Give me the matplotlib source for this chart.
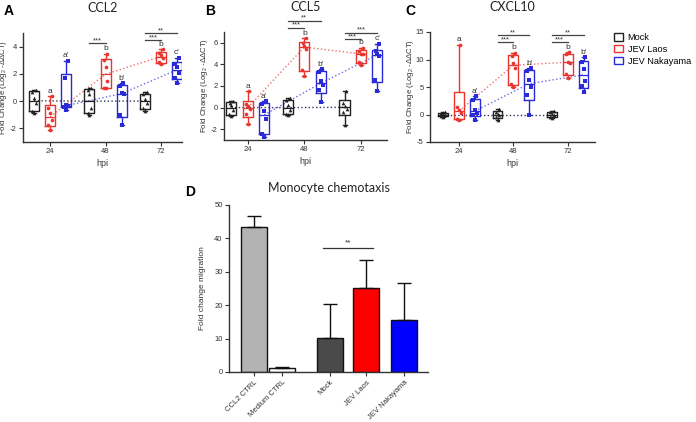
import matplotlib
matplotlib.use("Agg")
import matplotlib.pyplot as plt
import numpy as np
from matplotlib.patches import Patch

plt.rcParams['font.family'] = ['Liberation Sans', 'DejaVu Sans']
plt.rcParams['mathtext.fontset'] = 'custom'
plt.rcParams['mathtext.rm'] = 'Liberation Sans'
plt.rcParams['mathtext.it'] = 'Liberation Sans:italic'
plt.rcParams['axes.unicode_minus'] = False

# ---- data ----
hpi = ["24", "48", "72"]
groups = ["Mock", "JEV Laos", "JEV Nakayama"]

# CCL2 (Log2 -ddCT), 6 replicates per group per time point
ccl2_mock = [[0.81, 0.69, 0.2, -0.15, -0.69, -0.86],
             [0.95, 0.85, 0.5, -0.5, -0.85, -1.0],
             [0.65, 0.5, 0.15, -0.15, -0.5, -0.75]]
ccl2_laos = [[0.35, -0.5, -0.9, -1.4, -1.75, -2.15],
             [3.45, 3.0, 2.5, 1.45, 1.0, 1.0],
             [3.8, 3.55, 3.35, 3.2, 2.85, 2.75]]
ccl2_naka = [[2.95, 1.7, -0.3, -0.35, -0.4, -0.65],
             [1.3, 1.1, 0.6, 0.5, -1.0, -1.75],
             [3.2, 2.75, 2.5, 2.1, 1.7, 1.3]]

# CCL5
ccl5_mock = [[0.6, 0.45, 0.2, -0.2, -0.6, -0.8],
             [0.85, 0.7, 0.2, -0.2, -0.6, -0.7],
             [1.55, 0.45, 0.15, -0.1, -0.4, -1.65]]
ccl5_laos = [[1.5, 0.3, 0.15, -0.15, -0.6, -1.55],
             [6.4, 6.0, 5.75, 5.45, 3.5, 2.95],
             [5.55, 5.2, 5.0, 4.95, 4.2, 3.95]]
ccl5_naka = [[0.6, 0.35, -0.3, -1.05, -2.4, -2.75],
             [3.55, 3.3, 2.45, 2.05, 1.65, 0.5],
             [5.9, 5.2, 5.0, 4.8, 2.6, 1.5]]

# CXCL10
cxcl10_mock = [[0.4, 0.2, 0.1, -0.1, -0.2, -0.4],
               [1.0, 0.4, 0.1, -0.1, -0.45, -1.0],
               [0.7, 0.4, 0.1, -0.1, -0.4, -0.6]]
cxcl10_laos = [[12.7, 1.3, 0.9, 0.3, -0.8, -1.05],
               [11.2, 10.7, 9.4, 8.5, 5.5, 5.0],
               [11.3, 11.0, 9.6, 9.4, 7.3, 6.7]]
cxcl10_naka = [[3.3, 2.55, 0.9, 0.3, 0.0, -0.99],
               [8.4, 7.9, 6.2, 5.0, 3.6, 0.0],
               [10.4, 9.6, 8.3, 6.1, 5.1, 4.05]]

# significance brackets: (time index, group a, group b, y, label)
ccl2_sig = [(1, 0, 1, 4.25, '***'), (2, 0, 1, 4.45, '***'), (2, 0, 2, 4.97, '**')]
ccl5_sig = [(1, 0, 1, 7.4, '***'), (1, 0, 2, 8.05, '**'),
            (2, 0, 1, 6.35, '***'), (2, 0, 2, 6.95, '***')]
cxcl10_sig = [(1, 0, 1, 13.15, '***'), (1, 0, 2, 14.4, '**'),
              (2, 0, 1, 13.15, '***'), (2, 0, 2, 14.4, '**')]

laos_letters = ['a', 'b', 'b']
ccl_naka_letters = ["a'", "b'", "c'"]
cxcl10_naka_letters = ["a'", "b'", "b'"]

# panel D
d_labels = ["CCL2 CTRL", "Medium CTRL", "Mock", "JEV Laos", "JEV Nakayama"]
d_values = [43.3, 1.1, 10.1, 25.2, 15.7]
d_err = [3.3, 0.4, 10.3, 8.2, 10.9]

# ---- style ----
box_col = ['#222222', '#e8352e', '#2a2ad6']
line_col = ['#333355', '#f07070', '#6a6ae8']
markers = ['^', 'o', 's']
d_colors = ['#b3b3b3', '#ffffff', '#4a4a4a', '#ff0000', '#0000ff']
d_pos = [0, 1, 2.7, 4.0, 5.35]
offs = [-0.29, 0, 0.29]
jit = [0.03, -0.03, 0.0, 0.035, -0.035, 0.0]

W, H = 696, 422
fig = plt.figure(figsize=(W / 100, H / 100), dpi=100)


def px_axes(l, t, r, b):
    return fig.add_axes([l / W, 1 - b / H, (r - l) / W, (b - t) / H])


def stats(p):
    p = np.asarray(p)
    return dict(med=np.median(p),
                q1=np.percentile(p, 25, method='weibull'),
                q3=np.percentile(p, 75, method='weibull'),
                whislo=p.min(), whishi=p.max(), fliers=[])


def style_axes(ax):
    ax.tick_params(labelsize=5.5, length=3, width=0.8, color='#333333',
                   labelcolor='#333333', pad=1.5)
    for s in ['top', 'right']:
        ax.spines[s].set_visible(False)
    for s in ['left', 'bottom']:
        ax.spines[s].set_color('#333333')
        ax.spines[s].set_linewidth(1)


def panel(ax, data, sig, letters, ylim, yticks, xlim, title, width_px):
    rng = ylim[1] - ylim[0]
    for g in range(3):
        meds = []
        for t in range(3):
            x = t + offs[g]
            st = stats(data[g][t])
            meds.append(st['med'])
            ax.bxp([st], positions=[x], widths=0.18, showfliers=False,
                   boxprops=dict(color=box_col[g], lw=1),
                   medianprops=dict(color=box_col[g], lw=0.9),
                   whiskerprops=dict(color=box_col[g], lw=1),
                   capprops=dict(color=box_col[g], lw=1), capwidths=0.07)
            ax.scatter(x + np.array(jit), data[g][t], marker=markers[g],
                       s=7, color=box_col[g], zorder=3, linewidths=0)
            if g > 0:
                ax.text(x, max(data[g][t]) + 0.015 * rng, letters[g - 1][t],
                        ha='center', va='bottom', fontsize=6, color='#333333')
        ax.plot([t + offs[g] for t in range(3)], meds, ls=':', lw=1,
                color=line_col[g], zorder=1)
    for t, a, b, y, lab in sig:
        ax.plot([t + offs[a], t + offs[b]], [y, y], color='#444444', lw=0.9,
                clip_on=False)
        ax.text((t + offs[a] + t + offs[b]) / 2, y - 0.01 * rng, lab,
                ha='center', va='bottom', fontsize=5.5, color='#333333')
    ax.set_xlim(*xlim)
    ax.set_ylim(*ylim)
    ax.set_yticks(yticks)
    ax.set_xticks(range(3))
    ax.set_xticklabels(hpi)
    style_axes(ax)
    ax.set_xlabel('hpi', fontsize=6.5, color='#333333', labelpad=3)
    ax.set_ylabel('Fold Change (Log$_2$ -ΔΔCT)', fontsize=5.6, color='#333333')
    ax.yaxis.set_label_coords(-13.5 / width_px, 0.5)
    ax.set_title(title, fontsize=9, family='Lato', color='#222222', pad=15)


axA = px_axes(23, 33, 182, 142)
panel(axA, [ccl2_mock, ccl2_laos, ccl2_naka], ccl2_sig,
      [laos_letters, ccl_naka_letters], (-3, 5), [-2, 0, 2, 4],
      (-0.49, 2.38), 'CCL2', 159)

axB = px_axes(224, 32, 387, 140)
panel(axB, [ccl5_mock, ccl5_laos, ccl5_naka], ccl5_sig,
      [laos_letters, ccl_naka_letters], (-3, 7), [-2, 0, 2, 4, 6],
      (-0.42, 2.46), 'CCL5', 163)

axC = px_axes(430, 32, 595, 142)
panel(axC, [cxcl10_mock, cxcl10_laos, cxcl10_naka], cxcl10_sig,
      [laos_letters, cxcl10_naka_letters], (-5, 15), [-5, 0, 5, 10, 15],
      (-0.53, 2.5), 'CXCL10', 165)

# panel letters
for lab, px, py in [('A', 9, 11), ('B', 210, 11), ('C', 410, 11), ('D', 190, 192)]:
    fig.text(px / W, 1 - py / H, lab, fontsize=10, fontweight='bold',
             ha='center', va='center')

handles = [Patch(facecolor='white', edgecolor=c, lw=1) for c in box_col]
fig.legend(handles, groups, loc='upper left', bbox_to_anchor=(614 / W, 1 - 33 / H),
           frameon=False, fontsize=6.6, handlelength=1.0, handleheight=0.9,
           handletextpad=0.5, labelspacing=0.3, borderaxespad=0, borderpad=0)

# ---- panel D ----
axD = px_axes(229, 205, 428, 372)
axD.bar(d_pos, d_values, width=0.93, color=d_colors, edgecolor='#111111',
        lw=1, yerr=[np.zeros(len(d_err)), d_err], capsize=5,
        error_kw=dict(ecolor='#111111', elinewidth=1, capthick=1))
axD.set_xlim(-0.9, 6.2)
axD.set_ylim(0, 50)
axD.set_yticks([0, 10, 20, 30, 40, 50])
axD.set_xticks(d_pos)
axD.set_xticklabels(d_labels, rotation=45, ha='right', rotation_mode='anchor')
style_axes(axD)
axD.tick_params(axis='x', pad=2, labelsize=5.5)
axD.set_ylabel('Fold change migration', fontsize=6, color='#333333', labelpad=6)
axD.set_title('Monocyte chemotaxis', fontsize=9, family='Lato', color='#222222',
              pad=9)
axD.plot([d_pos[2] - 0.25, d_pos[3] + 0.25], [37, 37], color='#333333', lw=0.9)
axD.text((d_pos[2] + d_pos[3]) / 2, 37.5, '**', ha='center', va='bottom',
         fontsize=6, color='#333333')

fig.savefig('out.png', dpi=100)
